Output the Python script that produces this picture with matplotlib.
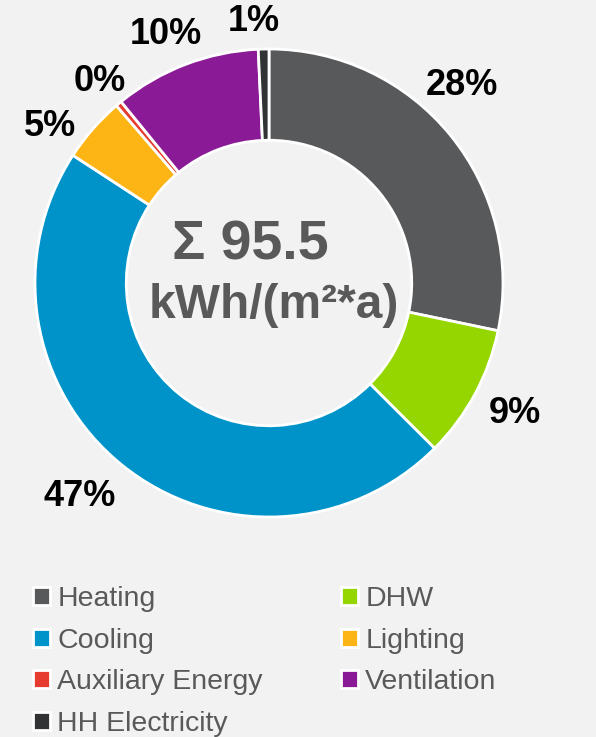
import numpy as np
import matplotlib
matplotlib.use("Agg")
import matplotlib.pyplot as plt

plt.rcParams["font.family"] = ["Liberation Sans", "DejaVu Sans"]

categories = ["Heating", "DHW", "Cooling", "Lighting", "Auxiliary Energy",
              "Ventilation", "HH Electricity"]
values_kwh = [27.0, 8.8, 44.6, 4.3, 0.4, 9.7, 0.7]   # kWh/(m²*a), sum 95.5
colors = ["#58595b", "#95d600", "#0093c9", "#fdb515", "#e63c2f",
          "#8b1a96", "#313335"]
total_label = "Σ 95.5"
unit_label = "kWh/(m²*a)"

# label placement ("best fit" in the original): radius and angular nudge
label_dist = [1.18, 1.19, 1.22, 1.15, 1.125, 1.15, 1.12]
label_nudge = [6.5, 0.5, -2.6, 5.7, 0.0, 1.5, 2.0]

BG = "#f2f2f2"
W_PX, H_PX = 596, 737
CX, CY, R = 269, 283, 234     # pie centre / radius in pixels
K = 1.2                       # data half-extent of the axes

fig = plt.figure(figsize=(W_PX / 100, H_PX / 100), dpi=100, facecolor=BG)
half = R * K
ax = fig.add_axes([(CX - half) / W_PX, (H_PX - CY - half) / H_PX,
                   2 * half / W_PX, 2 * half / H_PX])
ax.set_facecolor(BG)

wedges, texts, autotexts = ax.pie(
    values_kwh, colors=colors, startangle=90, counterclock=False,
    radius=1.0, autopct="%.0f%%", pctdistance=1.17,
    wedgeprops=dict(width=0.39, edgecolor="white", linewidth=2.0),
    textprops=dict(fontsize=26, fontweight="bold", color="black"))
ax.set_xlim(-K, K)
ax.set_ylim(-K, K)
ax.set_aspect("auto")
ax.axis("off")

for w, t, d, n in zip(wedges, autotexts, label_dist, label_nudge):
    mid = np.deg2rad((w.theta1 + w.theta2) / 2 + n)
    t.set_position((d * np.cos(mid), d * np.sin(mid)))

ax.text(-0.08, 0.10, total_label, ha="center", va="baseline",
        fontsize=40, fontweight="bold", color="#595959")
ax.text(0.02, -0.15, unit_label, ha="center", va="baseline",
        fontsize=34.5, fontweight="bold", color="#595959")

# legend filled row by row (two columns)
order = [0, 2, 4, 6, 1, 3, 5]
leg = fig.legend([wedges[i] for i in order], [categories[i] for i in order],
                 ncol=2, loc="upper left",
                 bbox_to_anchor=(33 / W_PX, 1 - 586 / H_PX),
                 bbox_transform=fig.transFigure, frameon=False,
                 fontsize=20.5, handlelength=0.6, handleheight=0.6,
                 handletextpad=0.25, columnspacing=2.75, labelspacing=0.55,
                 borderpad=0, borderaxespad=0)
for t in leg.get_texts():
    t.set_color("#595959")

fig.savefig("out.png", dpi=100, facecolor=BG)
